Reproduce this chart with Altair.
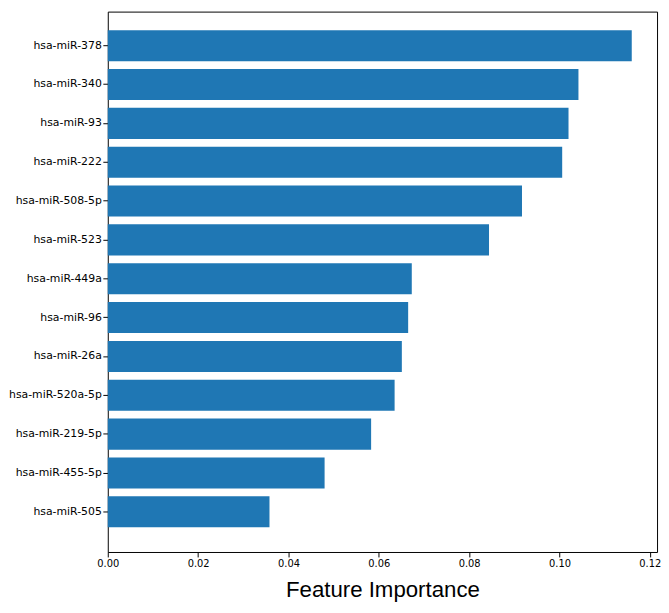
import altair as alt
import pandas as pd

features = ["hsa-miR-378", "hsa-miR-340", "hsa-miR-93", "hsa-miR-222", "hsa-miR-508-5p",
            "hsa-miR-523", "hsa-miR-449a", "hsa-miR-96", "hsa-miR-26a", "hsa-miR-520a-5p",
            "hsa-miR-219-5p", "hsa-miR-455-5p", "hsa-miR-505"]
importance = [0.1160, 0.1042, 0.1020, 0.1006, 0.0917,
              0.0844, 0.0673, 0.0665, 0.0651, 0.0635,
              0.0583, 0.0480, 0.0358]
x_ticks = [0.00, 0.02, 0.04, 0.06, 0.08, 0.10, 0.12]

df = pd.DataFrame({"feature": features, "importance": importance})

chart = alt.Chart(df).mark_bar(color="#1f77b4").encode(
    x=alt.X("importance:Q",
            scale=alt.Scale(domain=[0, 0.1216], nice=False, zero=True),
            axis=alt.Axis(values=x_ticks, format=".2f", grid=False, domain=False,
                          labelFlush=False,
                          title="Feature Importance", titleFont="Liberation Sans",
                          titleFontSize=22.5, titleFontWeight="normal", titleColor="black",
                          titleY=45, titleBaseline="alphabetic",
                          labelFont="DejaVu Sans", labelFontSize=10, labelColor="black",
                          tickColor="black", tickSize=5, labelPadding=2)),
    y=alt.Y("feature:N", sort=features,
            scale=alt.Scale(paddingInner=0.2, paddingOuter=0.5555, align=0.429),
            axis=alt.Axis(title=None, domain=False, grid=False,
                          labelFont="DejaVu Sans", labelFontSize=11, labelColor="black",
                          tickColor="black", tickSize=5, labelPadding=1.5)),
).properties(
    width=556,
    height=547,
    autosize=alt.AutoSizeParams(type="none"),
    padding={"left": 101, "top": 0, "right": 4, "bottom": 50},
).configure_view(
    stroke="black", strokeWidth=1
)

chart.save("out.html", embed_options={"renderer": "svg", "actions": False})
